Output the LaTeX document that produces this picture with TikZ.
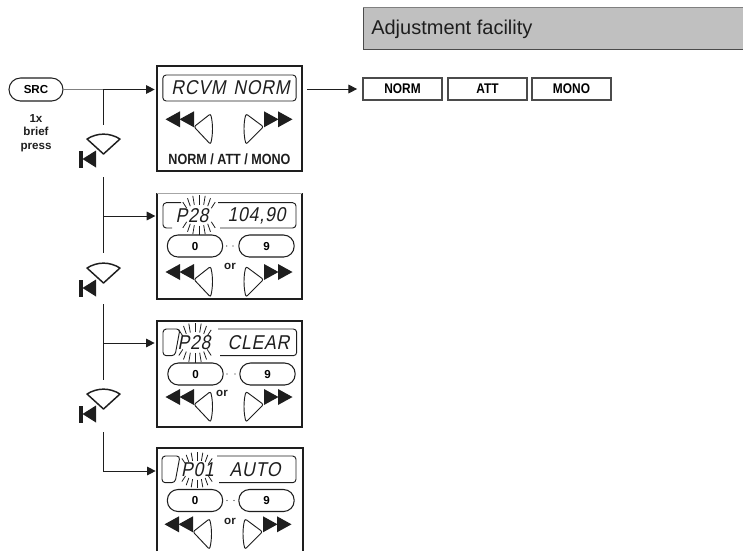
\documentclass[tikz,border=0pt]{standalone}
\usepackage{fontspec}
\usetikzlibrary{arrows.meta,calc}
\setmainfont{Liberation Sans}
\newfontfamily\narrowbold[FakeStretch=0.85]{Liberation Sans Bold}
\newfontfamily\lcdfont[FakeSlant=0.2,FakeStretch=0.88,LetterSpace=4]{Liberation Sans}
\definecolor{ink}{HTML}{1E1E1E}
\definecolor{headgray}{HTML}{C0C0C0}
\tikzset{
  thinline/.style={draw=ink,line width=0.75pt},
  conn/.style={thinline,-{Triangle[length=6.5pt,width=6.5pt]},shorten >=1pt},
  frame/.style={draw=ink,line width=1.5pt},
  panelbox/.style={frame,rectangle,inner sep=0pt},
  pill/.style={draw=ink,line width=0.8pt,rectangle,rounded corners=8pt,inner sep=0pt,minimum height=16.5pt,minimum width=41.5pt,font=\bfseries\fontsize{8.7pt}{10pt}\selectfont},
  optbox/.style={draw=ink!80,line width=0.8pt,rectangle,inner sep=0pt,minimum width=59.25pt,minimum height=16.5pt,font=\narrowbold\fontsize{10.5pt}{12pt}\selectfont},
  smalltext/.style={font=\bfseries\fontsize{8.7pt}{10.1pt}\selectfont,inner sep=0pt,align=center,text=ink},
  lcd/.style={font=\lcdfont\fontsize{15pt}{15pt}\selectfont,inner sep=0pt,text=ink},
  disp/.style={draw=ink,line width=0.7pt,rounded corners=2.5pt},
}
\newcommand{\pressbtn}[2]{%
  \begin{scope}[shift={(#1,#2)}]
    \draw[ink,line width=1.1pt,line join=round] (-16.5,5) .. controls (-6,-1.5) and (6,-1.5) .. (16.5,5) -- (0,20) -- cycle;
    \fill[ink] (-24.5,16.5) rectangle (-21,33.5);
    \fill[ink] (-21,25) -- (-7.5,16.5) -- (-7.5,33.5) -- cycle;
  \end{scope}}
\newcommand{\arrowkeys}[2]{%
  \begin{scope}[shift={(#1,#2)}]
    \fill[ink] (165.5,0) -- (180,-8) -- (180,8) -- cycle;
    \fill[ink] (179.5,0) -- (194,-8) -- (194,8) -- cycle;
    \fill[ink] (292.5,0) -- (278,-8) -- (278,8) -- cycle;
    \fill[ink] (278.5,0) -- (264,-8) -- (264,8) -- cycle;
    \draw[ink,line width=0.7pt,rounded corners=1.5pt] (194,7.5) -- (210.5,-5.5) .. controls (213,4) and (213,15) .. (210.5,25) -- cycle;
    \draw[ink,line width=0.7pt,rounded corners=1.5pt] (263.5,7.5) -- (246,-5.5) .. controls (243.5,4) and (243.5,15) .. (246,25) -- cycle;
  \end{scope}}
\newcommand{\flash}[4]{%
  \foreach \a in {40,57,73,90,107,123,140}{
    \draw[ink,line width=0.6pt] ($(#1,#2)+(\a:#3 and #4)$) -- ($(#1,#2)+(\a:1.32*#3 and 1.9*#4)$);
    \draw[ink,line width=0.6pt] ($(#1,#2)+(-\a:#3 and #4)$) -- ($(#1,#2)+(-\a:1.32*#3 and 1.9*#4)$);
  }}
\begin{document}
\begin{tikzpicture}[x=0.75pt,y=-0.75pt]
\useasboundingbox (0,0) rectangle (743,551);

% header
\fill[headgray] (363,7) rectangle (743,49);
\draw[ink!80,line width=0.7pt] (363,7) -- (363,49) -- (743,49);
\draw[gray,line width=0.4pt] (363,7) -- (743,7);
\node[anchor=west,inner sep=0pt,font=\fontsize{15pt}{18pt}\selectfont,text=ink] (head) at (371,29) {Adjustment facility};

% SRC key
\node[pill,minimum width=40.5pt,minimum height=17.25pt,rounded corners=8.6pt] (src) at (36,89.5) {SRC};
\node[smalltext] (brief) at (36,133) {1x\\brief\\press};

% panels
\node[panelbox,minimum width=108.75pt,minimum height=78.75pt] (p1) at (229.5,118.5) {};
\node[draw=none,inner sep=0pt,minimum width=108.75pt,minimum height=78.75pt] (p2) at (229.5,246) {};
\node[panelbox,minimum width=108.75pt,minimum height=79.5pt] (p3) at (229.5,374) {};
\coordinate (p4w) at (157,471);
\draw[frame] (p2.north west) -- (p2.south west) -- (p2.south east) -- (p2.north east);
\draw[gray!70,line width=0.7pt] (p2.north west) -- (p2.north east);
\draw[frame] (157,551) -- (157,448) -- (302.5,448) -- (302.5,551);

% adjustment options
\node[optbox] (o1) at (402.5,89) {NORM};
\node[optbox] (o2) at (487.5,89) {ATT};
\node[optbox] (o3) at (571.5,89) {MONO};

% connectors
\coordinate (j1) at (103,89.5);
\coordinate (a1) at (103,125);
\coordinate (a2) at (103,177);
\coordinate (a3) at (103,253);
\coordinate (a4) at (103,304);
\coordinate (a5) at (103,380);
\coordinate (a6) at (103,432);
\coordinate (j2) at (103,216);
\coordinate (j3) at (103,343);
\coordinate (j4) at (103,471);
\coordinate (o0) at (307,89);
\draw[gray,line width=1pt] (src.east) -- (j1);
\draw[conn] (j1) -- (j1 -| p1.west);
\draw[thinline] (j1) -- (a1);
\draw[thinline] (a2) -- (a3);
\draw[conn] (j2) -- (j2 -| p2.west);
\draw[thinline] (a4) -- (a5);
\draw[conn] (j3) -- (j3 -| p3.west);
\draw[thinline] (a6) -- (j4);
\draw[conn] (j4) -- (p4w);
\draw[conn,shorten >=4pt] (o0) -- (o0 -| o1.west);

% press symbols
\pressbtn{103.5}{134}
\pressbtn{103.5}{263}
\pressbtn{103.5}{389}

% panel 1
\node[disp,draw,rectangle,inner sep=0pt,minimum width=100pt,minimum height=19.5pt] (d1) at (229.5,88) {};
\node[lcd] (t1a) at (198.5,88) {RCVM};
\node[lcd] (t1b) at (261.5,88) {NORM};
\arrowkeys{0}{119.3}
\node[font=\narrowbold\fontsize{11.1pt}{13pt}\selectfont,inner sep=0pt,text=ink] (l1) at (229.5,159) {NORM / ATT / MONO};

% panel 2
\draw[disp] (181,202.7) -- (163,202.7) -- (163,228) -- (172,228);
\draw[disp] (218,202.7) -- (296,202.7) -- (296,228) -- (220,228);
\node[lcd] (t2a) at (192,215.5) {P28};
\node[lcd] (t2b) at (256.5,215.5) {104,90};
\flash{199}{215}{16}{10.5}
\node[pill] (k20) at (195,246) {0};
\node[pill] (k29) at (266.5,246) {9};
\fill[ink] (226.7,246) circle (0.6) (233,246) circle (0.6);
\node[smalltext] (or2) at (230,266) {or};
\arrowkeys{0}{272}

% panel 3
\draw[disp] (180,329) -- (163,329) -- (163,355.7) -- (175,355.7) -- cycle;
\draw[disp] (218,329) -- (296.7,329) -- (296.7,355.7) -- (220,355.7);
\node[lcd] (t3a) at (194,342.5) {P28};
\node[lcd] (t3b) at (258.5,342.5) {CLEAR};
\flash{195}{342.7}{16}{10.5}
\node[pill] (k30) at (195.5,374) {0};
\node[pill] (k39) at (267.5,374) {9};
\fill[ink] (227,374) circle (0.6) (235,374) circle (0.6);
\node[smalltext] (or3) at (222,393) {or};
\arrowkeys{0}{397}

% panel 4
\draw[disp] (180,456) -- (162,456) -- (162,482.7) -- (175,482.7) -- cycle;
\draw[disp] (217,456) -- (296,456) -- (296,482.7) -- (219,482.7);
\node[lcd] (t4a) at (197.5,469.5) {P01};
\node[lcd] (t4b) at (255,469.5) {AUTO};
\flash{197}{470}{15}{9.5}
\node[pill] (k40) at (195,500.5) {0};
\node[pill] (k49) at (266.5,500.5) {9};
\fill[ink] (227,500.5) circle (0.6) (234,500.5) circle (0.6);
\node[smalltext] (or4) at (230,521.7) {or};
\arrowkeys{-1}{524.3}
\end{tikzpicture}
\end{document}
